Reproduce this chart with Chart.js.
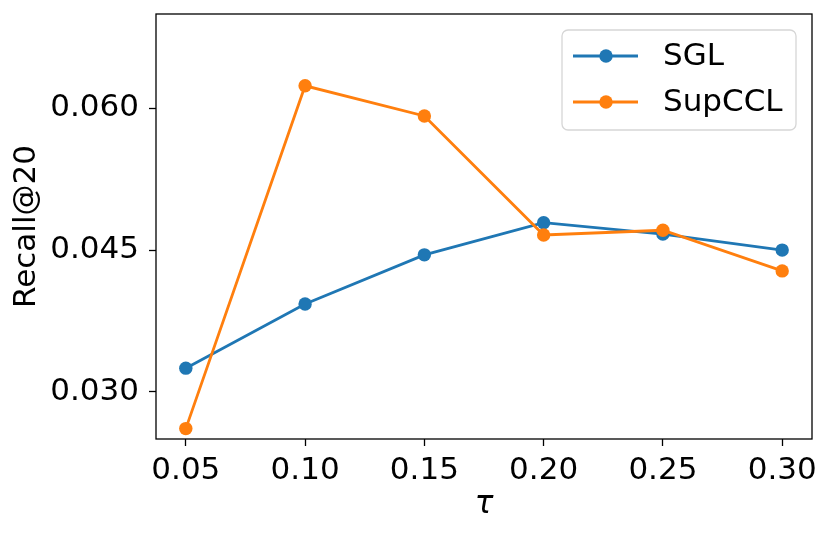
<!DOCTYPE html>
<html>
<head>
<meta charset="utf-8">
<script src="https://cdn.jsdelivr.net/npm/chart.js@4.4.0/dist/chart.umd.min.js"></script>
<style>
  html, body { margin: 0; padding: 0; background: #fff; }
  #wrap { width: 831px; height: 536px; }
</style>
</head>
<body>
<div id="wrap"><canvas id="chart" width="831" height="536"></canvas></div>
<script>
// data
const tauValues = [0.05, 0.10, 0.15, 0.20, 0.25, 0.30];
const sglRecall = [0.0325, 0.0393, 0.0445, 0.0479, 0.0467, 0.0450];
const supcclRecall = [0.0261, 0.0624, 0.0592, 0.0466, 0.0471, 0.0428];
const seriesNames = ['SGL', 'SupCCL'];
const xTickValues = [0.05, 0.10, 0.15, 0.20, 0.25, 0.30];
const yTickValues = [0.030, 0.045, 0.060];

const BLUE = '#1f77b4';
const ORANGE = '#ff7f0e';
const FONT = "'DejaVu Sans', sans-serif";
const FSIZE = 31;

const toPoints = ys => tauValues.map((x, i) => ({ x, y: ys[i] }));

// full box around the plot area, like matplotlib spines
const framePlugin = {
  id: 'frame',
  afterDraw(chart) {
    const { ctx, chartArea: a } = chart;
    ctx.save();
    ctx.strokeStyle = '#000';
    ctx.lineWidth = 1.3;
    ctx.strokeRect(a.left, a.top, a.right - a.left, a.bottom - a.top);
    ctx.restore();
  }
};

// legend with line + marker, matplotlib style
const legendPlugin = {
  id: 'mplLegend',
  afterDraw(chart) {
    const ctx = chart.ctx;
    const x0 = 562, y0 = 30, w = 234, h = 100, r = 6;
    ctx.save();
    ctx.beginPath();
    ctx.roundRect(x0, y0, w, h, r);
    ctx.fillStyle = 'rgba(255,255,255,0.8)';
    ctx.fill();
    ctx.strokeStyle = '#d6d6d6';
    ctx.lineWidth = 1.3;
    ctx.stroke();
    const rows = [56, 102];
    chart.data.datasets.slice().sort((a, b) => a.legendIndex - b.legendIndex).forEach((ds, i) => {
      const yy = rows[i];
      ctx.strokeStyle = ds.borderColor;
      ctx.lineWidth = 2.8;
      ctx.beginPath();
      ctx.moveTo(573, yy);
      ctx.lineTo(638, yy);
      ctx.stroke();
      ctx.fillStyle = ds.borderColor;
      ctx.beginPath();
      ctx.arc(606, yy, 6.7, 0, Math.PI * 2);
      ctx.fill();
      ctx.fillStyle = '#000';
      ctx.font = FSIZE + 'px ' + FONT;
      ctx.textBaseline = 'middle';
      ctx.textAlign = 'left';
      ctx.fillText(ds.label, 663, yy + 1);
    });
    ctx.restore();
  }
};

new Chart(document.getElementById('chart'), {
  type: 'line',
  data: {
    datasets: [
      {
        label: seriesNames[0],
        legendIndex: 0,
        data: toPoints(sglRecall),
        borderColor: BLUE,
        backgroundColor: BLUE,
        borderWidth: 2.8,
        pointRadius: 6.7,
        pointBorderWidth: 0,
        pointBackgroundColor: BLUE,
        tension: 0,
        order: 1
      },
      {
        label: seriesNames[1],
        legendIndex: 1,
        data: toPoints(supcclRecall),
        borderColor: ORANGE,
        backgroundColor: ORANGE,
        borderWidth: 2.8,
        pointRadius: 6.7,
        pointBorderWidth: 0,
        pointBackgroundColor: ORANGE,
        tension: 0,
        order: 0
      }
    ]
  },
  options: {
    responsive: false,
    animation: false,
    layout: { padding: { top: 14, right: 19, left: 0, bottom: 0 } },
    plugins: {
      legend: { display: false },
      tooltip: { enabled: false }
    },
    scales: {
      x: {
        type: 'linear',
        min: 0.0375,
        max: 0.3125,
        afterBuildTicks: axis => { axis.ticks = xTickValues.map(v => ({ value: v })); },
        afterFit: axis => {
          axis.height = 97;
          axis.paddingLeft = 0;
          axis.paddingRight = 0;
        },
        grid: { drawOnChartArea: false, tickLength: 7, tickColor: '#000', tickWidth: 1.3 },
        border: { display: false },
        ticks: {
          color: '#000',
          padding: 6,
          maxRotation: 0,
          font: { family: FONT, size: FSIZE },
          callback: v => v.toFixed(2)
        },
        title: {
          display: true,
          text: 'τ',
          color: '#000',
          font: { family: FONT, size: FSIZE, style: 'italic' },
          padding: { top: 0, bottom: 12 }
        }
      },
      y: {
        type: 'linear',
        min: 0.025,
        max: 0.070,
        afterBuildTicks: axis => { axis.ticks = yTickValues.map(v => ({ value: v })); },
        afterFit: axis => {
          axis.width = 156;
          axis.paddingTop = 0;
          axis.paddingBottom = 0;
        },
        grid: { drawOnChartArea: false, tickLength: 7, tickColor: '#000', tickWidth: 1.3 },
        border: { display: false },
        ticks: {
          color: '#000',
          padding: 10,
          font: { family: FONT, size: FSIZE },
          callback: v => v.toFixed(3)
        },
        title: {
          display: true,
          text: 'Recall@20',
          color: '#000',
          font: { family: FONT, size: FSIZE },
          padding: { top: 8, bottom: 0 }
        }
      }
    }
  },
  plugins: [framePlugin, legendPlugin]
});
</script>
</body>
</html>
